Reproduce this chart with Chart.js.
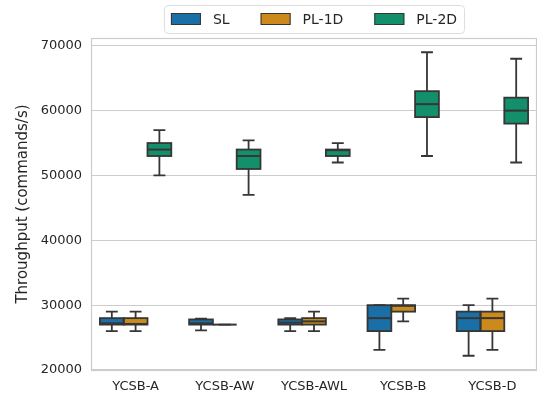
<!DOCTYPE html>
<html>
<head>
    <title>Throughput box plot</title>
    <style>
        body { margin: 0; background: #fff; }
        #wrap { width: 537px; height: 400px; }
    </style>
</head>
<body>
    <div id="wrap"><canvas id="chart" width="537" height="400"></canvas></div>
    <script src="https://cdn.jsdelivr.net/npm/chart.js"></script>
    <script>
        const categories = ['YCSB-A', 'YCSB-AW', 'YCSB-AWL', 'YCSB-B', 'YCSB-D'];
        const seriesNames = ['SL', 'PL-1D', 'PL-2D'];
        const yTicks = [20000, 30000, 40000, 50000, 60000, 70000];

        // five-number summaries per series: min, q1, median, q3, max
        const slMin = [26000, 26100, 26000, 23100, 22200];
        const slQ1  = [27000, 27000, 27000, 26000, 26000];
        const slMed = [27200, 27200, 27300, 28000, 28000];
        const slQ3  = [28000, 27800, 27800, 30000, 29000];
        const slMax = [29000, 27900, 28000, 30000, 30000];

        const p1Min = [26000, 27000, 26000, 27500, 23100];
        const p1Q1  = [27000, 27000, 27000, 29000, 26000];
        const p1Med = [27100, 27000, 27500, 29900, 28000];
        const p1Q3  = [28000, 27000, 28000, 30000, 29000];
        const p1Max = [29000, 27000, 29000, 31000, 31000];

        const p2Min = [50000, 47000, 52000, 53000, 52000];
        const p2Q1  = [53000, 51000, 53000, 59000, 58000];
        const p2Med = [54000, 53000, 53900, 61000, 60000];
        const p2Q3  = [55000, 54000, 54000, 63000, 62000];
        const p2Max = [57000, 55400, 55000, 69000, 68000];

        const colors = ['#1a6fa6', '#cc8a1c', '#138f6b'];
        const edge = '#363636';

        const stats = [
            { min: slMin, q1: slQ1, med: slMed, q3: slQ3, max: slMax },
            { min: p1Min, q1: p1Q1, med: p1Med, q3: p1Q3, max: p1Max },
            { min: p2Min, q1: p2Q1, med: p2Med, q3: p2Q3, max: p2Max }
        ];

        const font = "'DejaVu Sans', sans-serif";

        // frame around the plot area (seaborn whitegrid spines)
        const framePlugin = {
            id: 'frame',
            beforeDatasetsDraw(chart) {
                const a = chart.chartArea, ctx = chart.ctx;
                ctx.save();
                ctx.strokeStyle = '#cccccc';
                ctx.lineWidth = 1.2;
                ctx.strokeRect(a.left + 0.5, a.top + 0.5, a.right - a.left - 1, a.bottom - a.top);
                ctx.restore();
            }
        };

        // box outlines, whiskers, caps and medians on top of the floating bars
        const boxPlugin = {
            id: 'boxes',
            afterDatasetsDraw(chart) {
                const ctx = chart.ctx, y = chart.scales.y;
                ctx.save();
                ctx.strokeStyle = edge;
                ctx.lineCap = 'butt';
                stats.forEach((s, di) => {
                    const meta = chart.getDatasetMeta(di);
                    meta.data.forEach((bar, i) => {
                        const x = bar.x, w = bar.width;
                        const yMin = y.getPixelForValue(s.min[i]);
                        const yQ1 = y.getPixelForValue(s.q1[i]);
                        const yQ3 = y.getPixelForValue(s.q3[i]);
                        const yMax = y.getPixelForValue(s.max[i]);
                        const yMed = y.getPixelForValue(s.med[i]);
                        ctx.lineWidth = 1.8;
                        ctx.beginPath();
                        ctx.moveTo(x, yQ1); ctx.lineTo(x, yMin);
                        ctx.moveTo(x, yQ3); ctx.lineTo(x, yMax);
                        ctx.moveTo(x - w / 4, yMin); ctx.lineTo(x + w / 4, yMin);
                        ctx.moveTo(x - w / 4, yMax); ctx.lineTo(x + w / 4, yMax);
                        ctx.stroke();
                        if (yQ1 - yQ3 > 0.5) {
                            ctx.strokeRect(x - w / 2, yQ3, w, yQ1 - yQ3);
                        }
                        ctx.lineWidth = 2;
                        ctx.beginPath();
                        ctx.moveTo(x - w / 2, yMed); ctx.lineTo(x + w / 2, yMed);
                        ctx.stroke();
                    });
                });
                ctx.restore();
            }
        };

        // framed legend above the plot
        const legendPlugin = {
            id: 'boxLegend',
            afterDraw(chart) {
                const ctx = chart.ctx, a = chart.chartArea;
                ctx.save();
                ctx.font = '14px ' + font;
                const patchW = 30, patchH = 12, gap = 12, itemGap = 31;
                const names = chart.data.datasets.map(d => d.label);
                const widths = names.map(n => patchW + gap + ctx.measureText(n).width);
                const total = widths.reduce((p, c) => p + c, 0) + itemGap * (names.length - 1);
                const cx = (a.left + a.right) / 2;
                const padX = 7;
                const left = cx - total / 2 - padX;
                ctx.fillStyle = 'rgba(255,255,255,0.85)';
                ctx.strokeStyle = '#dddddd';
                ctx.lineWidth = 1;
                ctx.beginPath();
                ctx.roundRect(left + 0.5, 5.5, total + padX * 2, 28, 4);
                ctx.fill();
                ctx.stroke();
                let x = left + padX;
                const cy = 19;
                names.forEach((n, i) => {
                    ctx.fillStyle = chart.data.datasets[i].backgroundColor;
                    ctx.fillRect(x, cy - patchH / 2, patchW, patchH);
                    ctx.strokeStyle = edge;
                    ctx.lineWidth = 1;
                    ctx.strokeRect(x + 0.5, cy - patchH / 2 + 0.5, patchW - 1, patchH - 1);
                    ctx.fillStyle = '#262626';
                    ctx.textBaseline = 'middle';
                    ctx.fillText(n, x + patchW + gap, cy + 1);
                    x += widths[i] + itemGap;
                });
                ctx.restore();
            }
        };

        const datasets = stats.map((s, i) => ({
            label: seriesNames[i],
            data: s.q1.map((v, k) => [v, s.q3[k]]),
            backgroundColor: colors[i],
            borderWidth: 0,
            categoryPercentage: 0.8,
            barPercentage: 1.0
        }));

        new Chart(document.getElementById('chart'), {
            type: 'bar',
            data: { labels: categories, datasets: datasets },
            plugins: [framePlugin, boxPlugin, legendPlugin],
            options: {
                responsive: false,
                animation: false,
                layout: { padding: { top: 38, right: 0, bottom: 0, left: 14 } },
                plugins: {
                    legend: { display: false },
                    tooltip: { enabled: false }
                },
                scales: {
                    x: {
                        grid: { display: false, drawTicks: false },
                        border: { display: false },
                        ticks: { color: '#262626', font: { family: font, size: 13 }, padding: 9 },
                        afterFit(scale) { scale.height = 30; }
                    },
                    y: {
                        min: 20000,
                        max: 71200,
                        grid: { color: '#cccccc', lineWidth: 1.1, drawTicks: false },
                        border: { display: false },
                        afterBuildTicks(scale) {
                            scale.ticks = yTicks.map(v => ({ value: v }));
                        },
                        ticks: {
                            color: '#262626',
                            font: { family: font, size: 13 },
                            padding: 9,
                            callback: v => String(v)
                        },
                        title: {
                            display: true,
                            text: 'Throughput (commands/s)',
                            color: '#262626',
                            font: { family: font, size: 15 },
                            padding: { top: 0, bottom: 0 }
                        },
                        afterFit(scale) { scale.width = 77; }
                    }
                }
            }
        });
    </script>
</body>
</html>
